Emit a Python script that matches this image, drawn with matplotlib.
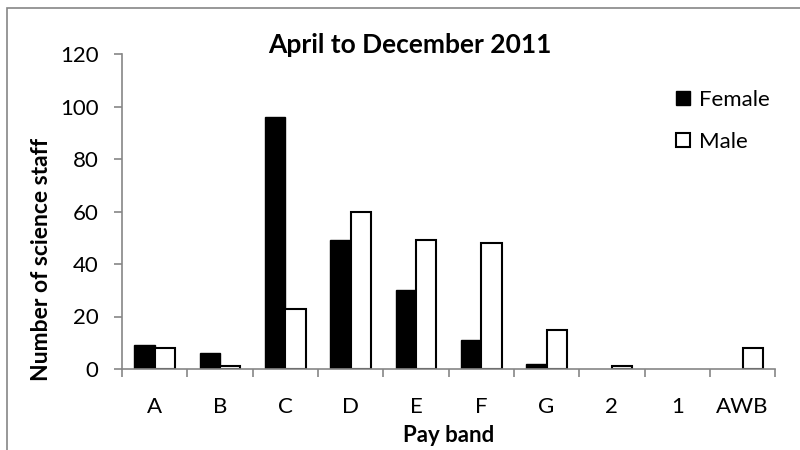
import numpy as np
import matplotlib.pyplot as plt
from matplotlib.patches import Rectangle

plt.rcParams['font.family'] = ['Lato', 'DejaVu Sans']

#%% data
bands = ["A", "B", "C", "D", "E", "F", "G", "2", "1", "AWB"]
female = [9, 6, 96, 49, 30, 11, 2, 0, 0, 0]
male = [8, 1, 23, 60, 49, 48, 15, 1, 0, 8]

#%% plot
fig = plt.figure(figsize=(8, 4.5), dpi=100)
ax = fig.add_axes([0.1525, 0.18, 0.8165, 0.70])

x = np.arange(len(bands))
w = 0.31
# zero-height bars leave no outline in the original
ax.bar(x - w/2, female, w, color="black", edgecolor="black",
       linewidth=[1 if v > 0 else 0 for v in female], label="Female")
ax.bar(x + w/2, male, w, color="white", edgecolor="black",
       linewidth=[1.5 if v > 0 else 0 for v in male], label="Male")

ax.set_xlim(-0.5, len(bands) - 0.5)
ax.set_ylim(0, 120)
ax.set_yticks(range(0, 121, 20))
ax.set_xticks(x)
ax.set_xticklabels(bands)
ax.set_xticks(np.arange(-0.5, len(bands)), minor=True)

axis_col = "#868686"
for s in ["top", "right"]:
    ax.spines[s].set_visible(False)
for s in ["left", "bottom"]:
    ax.spines[s].set_color(axis_col)
    ax.spines[s].set_linewidth(1.2)
ax.tick_params(axis="y", direction="out", length=6, width=1.2, color=axis_col, labelsize=16, pad=11)
ax.tick_params(axis="x", which="major", length=0, labelsize=16, pad=20)
ax.tick_params(axis="x", which="minor", direction="out", length=6, width=1.2, color=axis_col)

ax.set_ylabel("Number of science staff", fontsize=16.5, fontweight="bold")
ax.set_xlabel("Pay band", fontsize=16, fontweight="bold")
ax.yaxis.set_label_coords((42 - 122) / 653, (369 - 259) / 315)
ax.xaxis.set_label_coords(0.5, (369 - 436) / 315)
ax.xaxis.label.set_va("center")
ax.yaxis.label.set_va("center")
fig.text(410/800, 1 - 45/450, "April to December 2011", ha="center", va="center",
         fontsize=19, fontweight="bold")

leg = ax.legend(loc="upper left", bbox_to_anchor=(0.835, 0.915), frameon=False,
                fontsize=16, handlelength=0.6, handleheight=0.6, handletextpad=0.4,
                labelspacing=1.0, borderaxespad=0)

# outer chart frame (cut off at right and bottom)
fig.patches.append(Rectangle((7/800, -0.05), 1.1, 1 - 8/450 + 0.05, transform=fig.transFigure,
                             fill=False, edgecolor=axis_col, linewidth=1.2))

fig.savefig("out.png", dpi=100)
